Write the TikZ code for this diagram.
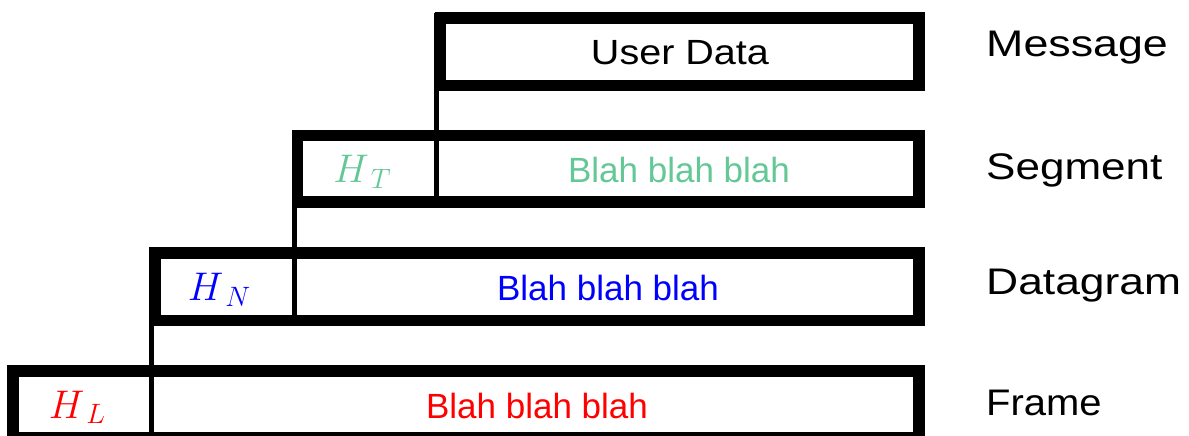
\RequirePackage{fix-cm}
\documentclass[tikz,border=0pt]{standalone}
\usepackage{fontspec}
\setsansfont{Liberation Sans}
\usepackage{graphicx}
\definecolor{hdrgreen}{RGB}{100,200,150}
% header symbol: italic H with a lowered, smaller layer letter
\newcommand\hdrsym[1]{$H$\kern2bp\raisebox{-5.5bp}{\fontsize{28bp}{28bp}\selectfont$#1$}}
\begin{document}
\begin{tikzpicture}[x=1bp,y=-1bp,
  layerbox/.style={draw=black, line width=11.5bp},
  sepline/.style={draw=black, line width=5bp},
  lbl/.style={inner sep=0pt, anchor=base, font=\sffamily\fontsize{35bp}{42bp}\selectfont},
  sidelbl/.style={inner sep=0pt, anchor=base west, font=\sffamily\fontsize{37bp}{44bp}\selectfont},
  hdr/.style={inner sep=0pt, anchor=base, font=\fontsize{40bp}{46bp}\selectfont}]
\useasboundingbox (0,0) rectangle (1189,436);
\clip (0,0) rectangle (1189,436);

% protocol data units, one per layer
\draw[layerbox] (440.5,18) rectangle (919,85.5);
\draw[layerbox] (297.5,135.7) rectangle (919,202);
\draw[layerbox] (155,253) rectangle (919,320.5);
\draw[layerbox] (13,371) rectangle (919,437.5);

% header separators, each running up to the layer above
\draw[sepline] (436.8,13) -- (436.8,207.3);
\draw[sepline] (294.5,130) -- (294.5,326.2);
\draw[sepline] (151.5,247.3) -- (151.5,443);

% contents
\node[lbl] (ud) at (680,65) {\scalebox{1.13}[1]{User Data}};
\node[lbl, text=hdrgreen] (segdata) at (679,183) {Blah blah blah};
\node[lbl, text=blue] (dgdata) at (608,301) {Blah blah blah};
\node[lbl, text=red] (frdata) at (537,418.3) {Blah blah blah};

\node[hdr, text=hdrgreen] (ht) at (362,183) {\hdrsym{T}};
\node[hdr, text=blue] (hn) at (219,301) {\hdrsym{N}};
\node[hdr, text=red] (hl) at (77,418.3) {\hdrsym{L}};

% layer names
\node[sidelbl] (msg) at (986,56.7) {\scalebox{1.21}[1]{Message}};
\node[sidelbl] (seg) at (986,180) {\scalebox{1.19}[1]{Segment}};
\node[sidelbl] (dg) at (986,295) {\scalebox{1.2}[1]{Datagram}};
\node[sidelbl] (fr) at (986,416) {\scalebox{1.08}[1]{Frame}};
\end{tikzpicture}
\end{document}
